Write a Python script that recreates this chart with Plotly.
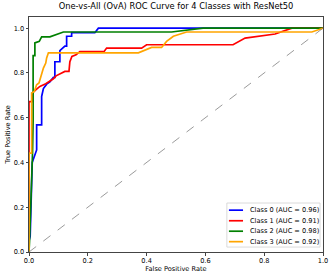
import plotly.graph_objects as go

# Class 0 (blue)
fpr0 = [0.0, 0.0, 0.004, 0.011, 0.026, 0.026, 0.043, 0.043, 0.049, 0.060, 0.071, 0.083, 0.088, 0.088,
        0.105, 0.105, 0.122, 0.128, 0.128, 0.145, 0.145, 0.224, 0.236, 1.0]
tpr0 = [0.0, 0.05, 0.07, 0.40, 0.456, 0.568, 0.568, 0.695, 0.73, 0.75, 0.76, 0.78, 0.78, 0.85,
        0.85, 0.90, 0.92, 0.92, 0.964, 0.964, 0.98, 0.98, 1.0, 1.0]
# Class 1 (red)
fpr1 = [0.0, 0.0, 0.011, 0.011, 0.026, 0.037, 0.057, 0.071, 0.083, 0.092, 0.105, 0.122, 0.136, 0.139,
        0.146, 0.160, 0.173, 0.255, 0.264, 0.383, 0.400, 0.694, 0.735, 0.837, 0.894, 1.0]
tpr1 = [0.0, 0.672, 0.672, 0.710, 0.728, 0.740, 0.752, 0.762, 0.774, 0.787, 0.796, 0.807, 0.807, 0.850,
        0.874, 0.881, 0.895, 0.895, 0.911, 0.911, 0.926, 0.926, 0.956, 0.974, 1.0, 1.0]
# Class 2 (green)
fpr2 = [0.0, 0.002, 0.012, 0.014, 0.014, 0.020, 0.020, 0.035, 0.043, 0.071, 0.117, 0.485, 0.592, 1.0]
tpr2 = [0.0, 0.054, 0.443, 0.591, 0.877, 0.877, 0.934, 0.941, 0.961, 0.961, 0.983, 0.983, 1.0, 1.0]
# Class 3 (orange)
fpr3 = [0.0, 0.0, 0.009, 0.009, 0.018, 0.026, 0.034, 0.041, 0.049, 0.057, 0.060, 0.066, 0.372, 0.417,
        0.451, 0.468, 0.491, 0.536, 0.962, 1.0]
tpr3 = [0.0, 0.442, 0.442, 0.710, 0.717, 0.747, 0.755, 0.792, 0.822, 0.844, 0.867, 0.890, 0.890, 0.914,
        0.914, 0.941, 0.964, 0.983, 0.983, 1.0]

auc = [0.96, 0.91, 0.98, 0.92]
colors = ["blue", "red", "green", "orange"]
class_names = ["Class 0", "Class 1", "Class 2", "Class 3"]
diag = [0.0, 1.0]
ticks = [0, 0.2, 0.4, 0.6, 0.8, 1.0]

FONT = "DejaVu Sans"
FS = 6.6

fig = go.Figure()
for i, (fx, ty) in enumerate([(fpr0, tpr0), (fpr1, tpr1), (fpr2, tpr2), (fpr3, tpr3)]):
    fig.add_trace(go.Scatter(x=fx, y=ty, mode="lines", line=dict(color=colors[i], width=1.7),
                             name=f"{class_names[i]} (AUC = {auc[i]:.2f})", showlegend=False))
fig.add_trace(go.Scatter(x=diag, y=diag, mode="lines", showlegend=False,
                         line=dict(color="gray", width=0.8, dash="dash")))

axis_common = dict(showline=True, linecolor="#444", linewidth=1, mirror=True, showgrid=False,
                   zeroline=False, ticks="outside", ticklen=2.5, tickwidth=0.8, tickcolor="#444",
                   automargin=False,
                   tickfont=dict(family=FONT, size=FS, color="black"))
fig.update_xaxes(range=[0, 1], tickvals=ticks, tickformat=".1f",
                 title=dict(text="False Positive Rate", font=dict(family=FONT, size=FS, color="black"), standoff=1),
                 **axis_common)
fig.update_yaxes(range=[0, 1.05], tickvals=ticks, tickformat=".1f",
                 title=dict(text="True Positive Rate", font=dict(family=FONT, size=FS, color="black"), standoff=2),
                 **axis_common)

# legend box (matplotlib-style, lower right)
lx0, lx1, ly0, ly1 = 0.673, 0.990, 0.021, 0.2085
shapes = [dict(type="rect", xref="paper", yref="paper", x0=lx0, x1=lx1, y0=ly0, y1=ly1,
               line=dict(color="#d0d0d0", width=0.8), fillcolor="rgba(255,255,255,0.85)", layer="above")]
annotations = []
row_y = [0.178, 0.133, 0.0885, 0.044]
for i in range(4):
    shapes.append(dict(type="line", xref="paper", yref="paper", x0=0.680, x1=0.728, y0=row_y[i], y1=row_y[i],
                       line=dict(color=colors[i], width=1.7), layer="above"))
    annotations.append(dict(xref="paper", yref="paper", x=0.744, y=row_y[i], xanchor="left", yanchor="middle",
                            text=f"{class_names[i]} (AUC = {auc[i]:.2f})", showarrow=False,
                            font=dict(family=FONT, size=FS, color="black")))

fig.update_layout(
    width=333, height=279,
    margin=dict(l=29, r=10, t=17, b=27),
    paper_bgcolor="white", plot_bgcolor="white",
    showlegend=False,
    shapes=shapes, annotations=annotations,
    title=dict(text="One-vs-All (OvA) ROC Curve for 4 Classes with ResNet50",
               font=dict(family=FONT, size=8.3, color="black"), xref="paper", x=0.5, xanchor="center",
               y=0.988, yanchor="top"),
)
fig.write_html("out.html", config={"displayModeBar": False},
               post_script="document.body.style.margin='0';document.body.style.padding='0';")
